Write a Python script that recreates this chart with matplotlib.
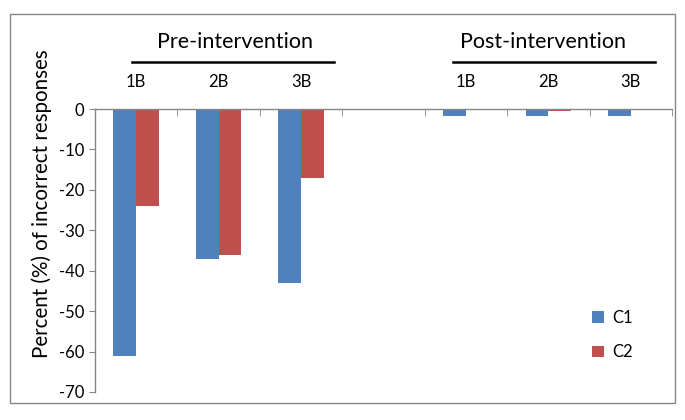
import matplotlib
matplotlib.use("Agg")
import matplotlib.pyplot as plt
import numpy as np
from matplotlib.transforms import blended_transform_factory
from matplotlib.patches import Rectangle
from matplotlib.lines import Line2D
from matplotlib.ticker import FixedLocator

plt.rcParams['font.family'] = ['Lato', 'DejaVu Sans']

categories = ["1B", "2B", "3B", "", "1B", "2B", "3B"]
c1 = [-61, -37, -43, np.nan, -1.7, -1.7, -1.7]
c2 = [-24, -36, -17, np.nan, 0, -0.6, 0]
groups = ["Pre-intervention", "Post-intervention"]
yticks = [0, -10, -20, -30, -40, -50, -60, -70]

blue = "#4F81BD"
red = "#C0504D"

fig = plt.figure(figsize=(6.85, 4.2), dpi=100)
ax = fig.add_axes([95/685, 1-392/420, (672-95)/685, (392-109)/420])

x = np.arange(len(categories))
w = 0.277
b1 = ax.bar(x - w/2, c1, w, color=blue, label="C1")
b2 = ax.bar(x + w/2, c2, w, color=red, label="C2")

ax.set_xlim(-0.5, len(categories) - 0.5)
ax.set_ylim(-70, 0)
ax.set_yticks(yticks)
ax.set_yticklabels([str(v) for v in yticks], fontsize=12)

ax.spines['right'].set_visible(False)
ax.spines['bottom'].set_visible(False)
for s in ['top', 'left']:
    ax.spines[s].set_color('#868686')
    ax.spines[s].set_linewidth(1.0)

ax.xaxis.tick_top()
ax.set_xticks(x)
ax.set_xticklabels(categories, fontsize=12)
ax.tick_params(axis='x', which='major', length=0, pad=14)
ax.xaxis.set_minor_locator(FixedLocator(np.arange(-0.5, len(categories), 1.0)))
ax.tick_params(axis='x', which='minor', direction='in', length=5, color='#868686')
ax.tick_params(axis='y', which='major', direction='out', length=4, color='#868686', pad=4)

ax.set_ylabel("Percent (%) of incorrect responses", fontsize=14.8)
ax.yaxis.set_label_coords(-0.074, (392 - 204) / 283)

trans = blended_transform_factory(ax.transData, fig.transFigure)
text_centers = [1.2, 4.94]
line_spans = [(-0.05, 2.4), (3.84, 6.29)]
for name, cx, (a, b) in zip(groups, text_centers, line_spans):
    ax.text(cx, 1 - 42/420, name, transform=trans, ha='center', va='center', fontsize=15.5)
    ln = Line2D([a, b], [1 - 62/420, 1 - 62/420], transform=trans,
                color='black', lw=1.8, clip_on=False)
    fig.add_artist(ln)

fig.add_artist(Rectangle((10/685, 1 - 403/420), (675-10)/685, (403-14)/420,
                         transform=fig.transFigure, fill=False, edgecolor='#868686', lw=1.0))

leg = ax.legend(handles=[b1, b2], loc='center left', bbox_to_anchor=(577/685, 1 - 335/420),
                bbox_transform=fig.transFigure, frameon=False, fontsize=12,
                handlelength=0.7, handleheight=0.7, handletextpad=0.5, labelspacing=1.1)

fig.savefig("out.png", dpi=100)
